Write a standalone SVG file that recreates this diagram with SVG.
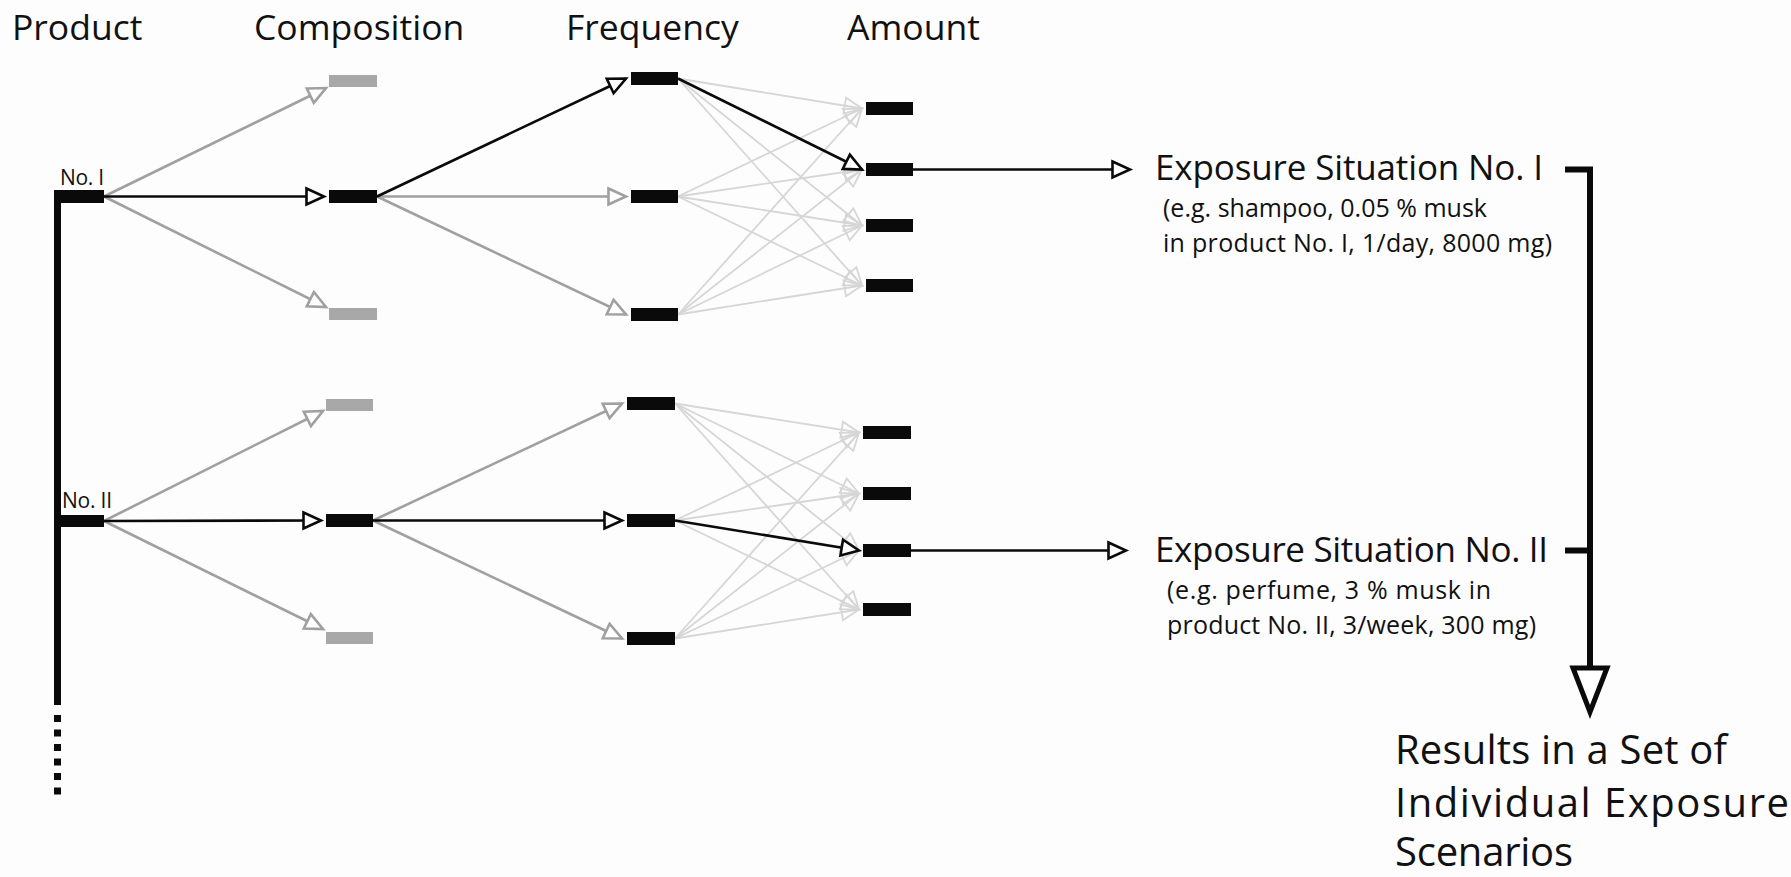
<svg xmlns="http://www.w3.org/2000/svg" width="1791" height="877" viewBox="0 0 1791 877">
<defs>
<style>
.t{font-family:"Open Sans","Noto Sans","Liberation Sans",sans-serif;fill:#111}
.hd{font-size:35.5px}
.lb{font-size:21px}
.ti{font-size:35px}
.sb{font-size:25px}
.rs{font-size:40px}
.bk{fill:#0a0a0a}
.gy{fill:#a8a8a8}
.cb{stroke:#0a0a0a;stroke-width:2.6;fill:none;marker-end:url(#ab)}
.cg{stroke:#a0a0a0;stroke-width:2.6;fill:none;marker-end:url(#ag)}
.cl{stroke:#d6d6d6;stroke-width:1.8;fill:none;marker-end:url(#al)}
</style>
<marker id="ab" markerUnits="userSpaceOnUse" viewBox="0 0 22 20" markerWidth="22" markerHeight="20" refX="19.5" refY="10" orient="auto" overflow="visible">
<path d="M2,2 L19.5,10 L2,18 Z" fill="#fff" stroke="#0a0a0a" stroke-width="2.6"/>
</marker>
<marker id="ag" markerUnits="userSpaceOnUse" viewBox="0 0 22 20" markerWidth="22" markerHeight="20" refX="19.5" refY="10" orient="auto" overflow="visible">
<path d="M2,2 L19.5,10 L2,18 Z" fill="#fff" stroke="#a0a0a0" stroke-width="2.6"/>
</marker>
<marker id="al" markerUnits="userSpaceOnUse" viewBox="0 0 22 20" markerWidth="22" markerHeight="20" refX="19.5" refY="10" orient="auto" overflow="visible">
<path d="M2,2 L19.5,10 L2,18 Z" fill="none" stroke="#d6d6d6" stroke-width="1.8"/>
</marker>
</defs>
<rect width="1791" height="877" fill="#fdfdfd"/>

<!-- column headings -->
<g id="headings" class="t hd">
<text x="12" y="40">Product</text>
<text x="254" y="40">Composition</text>
<text x="566" y="40">Frequency</text>
<text x="847" y="40">Amount</text>
</g>

<!-- product axis with dotted continuation -->
<g id="product-axis">
<rect x="54" y="190" width="7" height="515" class="bk"/>
<rect x="54" y="715" width="7" height="7" class="bk"/>
<rect x="54" y="729.5" width="7" height="7" class="bk"/>
<rect x="54" y="744" width="7" height="7" class="bk"/>
<rect x="54" y="758.5" width="7" height="7" class="bk"/>
<rect x="54" y="773" width="7" height="7" class="bk"/>
<rect x="54" y="787.5" width="7" height="7" class="bk"/>
</g>

<g id="connectors">
<!-- product I -> composition -->
<line x1="104" y1="196.5" x2="326" y2="88" class="cg"/>
<line x1="104" y1="196.5" x2="326" y2="307" class="cg"/>
<line x1="104" y1="196.5" x2="324" y2="196.5" class="cb"/>
<!-- composition I -> frequency -->
<line x1="377" y1="196.5" x2="626" y2="196.5" class="cg"/>
<line x1="377" y1="196.5" x2="626" y2="314.5" class="cg"/>
<line x1="377" y1="196.5" x2="626" y2="78.5" class="cb"/>
<!-- frequency I -> amount -->
<line x1="678" y1="78.5" x2="862" y2="108.5" class="cl"/>
<line x1="678" y1="78.5" x2="862" y2="225.5" class="cl"/>
<line x1="678" y1="78.5" x2="862" y2="285.5" class="cl"/>
<line x1="678" y1="196.5" x2="862" y2="108.5" class="cl"/>
<line x1="678" y1="196.5" x2="862" y2="169.5" class="cl"/>
<line x1="678" y1="196.5" x2="862" y2="225.5" class="cl"/>
<line x1="678" y1="196.5" x2="862" y2="285.5" class="cl"/>
<line x1="678" y1="314.5" x2="862" y2="108.5" class="cl"/>
<line x1="678" y1="314.5" x2="862" y2="169.5" class="cl"/>
<line x1="678" y1="314.5" x2="862" y2="225.5" class="cl"/>
<line x1="678" y1="314.5" x2="862" y2="285.5" class="cl"/>
<line x1="678" y1="78.5" x2="862" y2="169.5" class="cb"/>
<!-- amount I -> situation I -->
<line x1="913" y1="169.5" x2="1130" y2="169.5" class="cb"/>

<!-- product II -> composition -->
<line x1="104" y1="521" x2="323" y2="411" class="cg"/>
<line x1="104" y1="521" x2="323" y2="629" class="cg"/>
<line x1="104" y1="521" x2="321" y2="520.5" class="cb"/>
<!-- composition II -> frequency -->
<line x1="373" y1="520.5" x2="622" y2="403.5" class="cg"/>
<line x1="373" y1="520.5" x2="622" y2="638.5" class="cg"/>
<line x1="373" y1="520.5" x2="622" y2="520.5" class="cb"/>
<!-- frequency II -> amount -->
<line x1="675" y1="403.5" x2="859" y2="432.5" class="cl"/>
<line x1="675" y1="403.5" x2="859" y2="493.5" class="cl"/>
<line x1="675" y1="403.5" x2="859" y2="550.5" class="cl"/>
<line x1="675" y1="403.5" x2="859" y2="609.5" class="cl"/>
<line x1="675" y1="520.5" x2="859" y2="432.5" class="cl"/>
<line x1="675" y1="520.5" x2="859" y2="493.5" class="cl"/>
<line x1="675" y1="520.5" x2="859" y2="609.5" class="cl"/>
<line x1="675" y1="638.5" x2="859" y2="432.5" class="cl"/>
<line x1="675" y1="638.5" x2="859" y2="493.5" class="cl"/>
<line x1="675" y1="638.5" x2="859" y2="550.5" class="cl"/>
<line x1="675" y1="638.5" x2="859" y2="609.5" class="cl"/>
<line x1="675" y1="520.5" x2="859" y2="550.5" class="cb"/>
<!-- amount II -> situation II -->
<line x1="911" y1="550.5" x2="1126" y2="550.5" class="cb"/>

<!-- collecting bracket and result arrow -->
<path d="M1565,169.5 H1590 V668" fill="none" stroke="#0a0a0a" stroke-width="6"/>
<path d="M1565,550.5 H1590" fill="none" stroke="#0a0a0a" stroke-width="6"/>
<path d="M1573,668 L1607,668 L1590,712 Z" fill="#fff" stroke="#0a0a0a" stroke-width="5"/>
</g>

<!-- product nodes -->
<g id="product-1">
<rect x="54" y="190" width="50" height="13" class="bk"/>
<text x="60" y="185" class="t lb" textLength="44">No. I</text>
</g>
<g id="product-2">
<rect x="54" y="515" width="50" height="12" class="bk"/>
<text x="62" y="508" class="t lb" textLength="50">No. II</text>
</g>

<!-- composition nodes -->
<g id="composition-1a"><rect x="329" y="75" width="48" height="12" class="gy"/></g>
<g id="composition-1b"><rect x="329" y="190" width="48" height="13" class="bk"/></g>
<g id="composition-1c"><rect x="329" y="308" width="48" height="12" class="gy"/></g>
<g id="composition-2a"><rect x="326" y="399" width="47" height="12" class="gy"/></g>
<g id="composition-2b"><rect x="326" y="514" width="47" height="13" class="bk"/></g>
<g id="composition-2c"><rect x="326" y="632" width="47" height="12" class="gy"/></g>

<!-- frequency nodes -->
<g id="frequency-1a"><rect x="631" y="72" width="47" height="13" class="bk"/></g>
<g id="frequency-1b"><rect x="631" y="190" width="47" height="13" class="bk"/></g>
<g id="frequency-1c"><rect x="631" y="308" width="47" height="13" class="bk"/></g>
<g id="frequency-2a"><rect x="627" y="397" width="48" height="13" class="bk"/></g>
<g id="frequency-2b"><rect x="627" y="514" width="48" height="13" class="bk"/></g>
<g id="frequency-2c"><rect x="627" y="632" width="48" height="13" class="bk"/></g>

<!-- amount nodes -->
<g id="amount-1a"><rect x="866" y="102" width="47" height="13" class="bk"/></g>
<g id="amount-1b"><rect x="866" y="163" width="47" height="13" class="bk"/></g>
<g id="amount-1c"><rect x="866" y="219" width="47" height="13" class="bk"/></g>
<g id="amount-1d"><rect x="866" y="279" width="47" height="13" class="bk"/></g>
<g id="amount-2a"><rect x="863" y="426" width="48" height="13" class="bk"/></g>
<g id="amount-2b"><rect x="863" y="487" width="48" height="13" class="bk"/></g>
<g id="amount-2c"><rect x="863" y="544" width="48" height="13" class="bk"/></g>
<g id="amount-2d"><rect x="863" y="603" width="48" height="13" class="bk"/></g>

<!-- exposure situations -->
<g id="situation-1" class="t">
<text x="1155" y="180" class="ti" textLength="388">Exposure Situation No. I</text>
<text x="1163" y="217" class="sb" textLength="324">(e.g. shampoo, 0.05 % musk</text>
<text x="1163" y="252" class="sb" textLength="389">in product No. I, 1/day, 8000 mg)</text>
</g>
<g id="situation-2" class="t">
<text x="1155" y="562" class="ti" textLength="393">Exposure Situation No. II</text>
<text x="1167" y="599" class="sb" textLength="324">(e.g. perfume, 3 % musk in</text>
<text x="1167" y="634" class="sb" textLength="369">product No. II, 3/week, 300 mg)</text>
</g>

<!-- result -->
<g id="result" class="t rs">
<text x="1395" y="764" textLength="332">Results in a Set of</text>
<text x="1395" y="817" textLength="394">Individual Exposure</text>
<text x="1395" y="866" textLength="178">Scenarios</text>
</g>
</svg>
